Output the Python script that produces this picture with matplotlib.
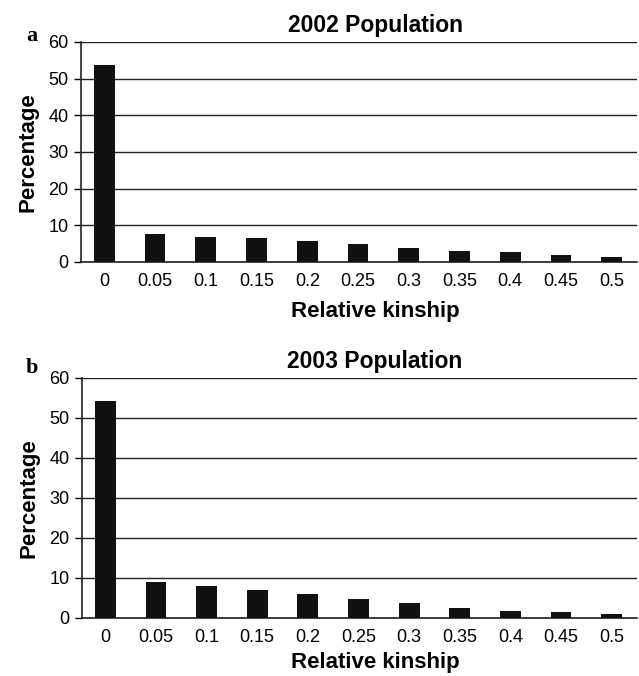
import numpy as np
import matplotlib
matplotlib.use('Agg')
import matplotlib.pyplot as plt

plt.rcParams['font.family'] = ['Liberation Sans', 'DejaVu Sans']

kinship = ['0', '0.05', '0.1', '0.15', '0.2', '0.25', '0.3', '0.35', '0.4', '0.45', '0.5']
pct_2002 = [53.6, 7.7, 6.9, 6.6, 5.6, 4.8, 3.7, 2.9, 2.6, 1.8, 1.5]
pct_2003 = [54.2, 9.1, 8.0, 7.0, 5.9, 4.7, 3.8, 2.5, 1.7, 1.4, 0.9]
titles = ['2002 Population', '2003 Population']
letters = ['a', 'b']
yticks = [0, 10, 20, 30, 40, 50, 60]

W, H = 639, 676
fig = plt.figure(figsize=(W / 100, H / 100), dpi=100)

# axes boxes in pixels: left, top, right, bottom
boxes = [(81, 42, 637, 262), (82, 378, 637, 618)]
letter_pos = [(32, 36), (32, 368)]
xlabel_pads = [8, 4]

for box, lp, xpad, vals, title, letter in zip(boxes, letter_pos, xlabel_pads,
                                              [pct_2002, pct_2003], titles, letters):
  l, t, r, b = box
  ax = fig.add_axes([l / W, 1 - b / H, (r - l) / W, (b - t) / H])
  x = np.arange(len(kinship))
  ax.bar(x, vals, width=0.41, color='#111111', zorder=3)
  ax.set_xlim(-0.46, len(kinship) - 0.5)
  ax.set_ylim(0, 60)
  ax.set_yticks(yticks)
  ax.yaxis.grid(True, color='#222222', linewidth=1.0, zorder=0)
  ax.set_xticks(x)
  ax.set_xticklabels(kinship)
  ax.tick_params(axis='x', length=0, pad=8, labelsize=13)
  ax.tick_params(axis='y', length=5, width=1, direction='out', pad=4, labelsize=13)
  for s in ['top', 'right']:
    ax.spines[s].set_visible(False)
  for s in ['left', 'bottom']:
    ax.spines[s].set_linewidth(1.2)
    ax.spines[s].set_color('#222222')
  cx = (375 - l) / (r - l)
  ax.set_title(title, fontsize=16.5, fontweight='bold', pad=7, x=cx)
  ax.set_xlabel('Relative kinship', fontsize=16, fontweight='bold', labelpad=xpad, x=cx)
  ax.set_ylabel('Percentage', fontsize=16, fontweight='bold', labelpad=7)
  fig.text(lp[0] / W, 1 - lp[1] / H, letter, fontsize=16, fontweight='bold',
           family=['Liberation Serif', 'DejaVu Serif'], va='center', ha='center')

fig.savefig('out.png', dpi=100)
